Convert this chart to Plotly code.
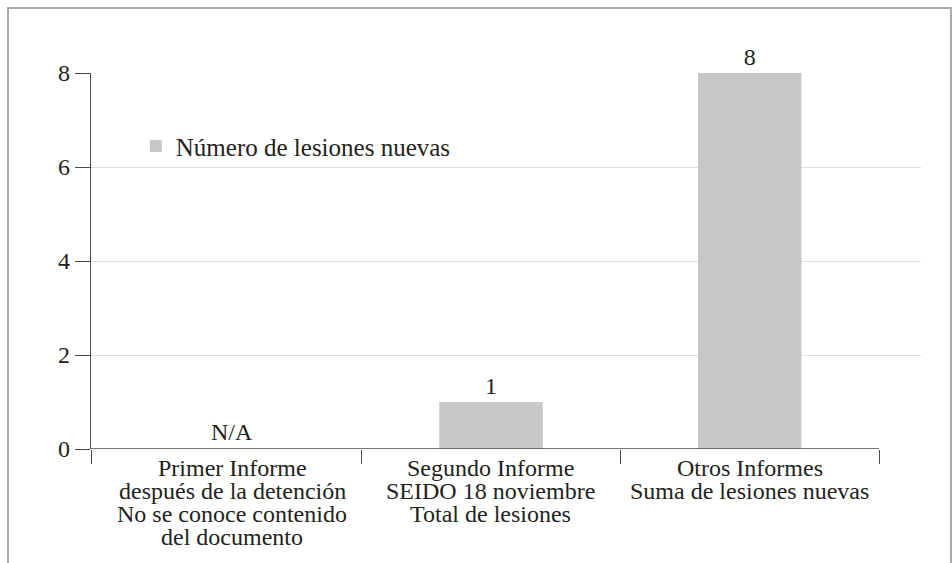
import plotly.graph_objects as go

# Data
categories = [
    "Primer Informe<br>después de la detención<br>No se conoce contenido<br>del documento",
    "Segundo Informe<br>SEIDO 18 noviembre<br>Total de lesiones",
    "Otros Informes<br>Suma de lesiones nuevas",
]
values = [None, 1, 8]
value_labels = ["N/A", "1", "8"]
series_name = "Número de lesiones nuevas"
y_ticks = [0, 2, 4, 6, 8]

FONT = "Liberation Serif, Times New Roman, serif"
TEXT = "#231f20"
BAR = "#c6c7c9"
GRID = "#dcdcdc"
AXIS = "#4a4a4a"
FS = 24

x_keys = list(range(len(categories)))
x_range = [-0.546, 2.662]

fig = go.Figure()
fig.add_trace(go.Bar(
    x=x_keys,
    y=values,
    name=series_name,
    marker=dict(color=BAR, line=dict(width=0)),
    width=0.4,
    text=[lbl if v is not None else "" for v, lbl in zip(values, value_labels)],
    textposition="outside",
    textfont=dict(family=FONT, size=FS, color=TEXT),
    cliponaxis=False,
    showlegend=True,
))

annotations = []
# "N/A" for categories without a value
for xi, (v, lbl) in enumerate(zip(values, value_labels)):
    if v is None:
        annotations.append(dict(
            x=xi, y=0, xref="x", yref="y", text=lbl, showarrow=False,
            yanchor="bottom", yshift=2,
            font=dict(family=FONT, size=FS, color=TEXT),
        ))

# Category labels, one annotation per line for tight line spacing
LINE_H = 23
for xi, cat in enumerate(categories):
    for li, line in enumerate(cat.split("<br>")):
        annotations.append(dict(
            x=xi, y=0, xref="x", yref="y", text=line, showarrow=False,
            yanchor="top", yshift=-(4 + li * LINE_H),
            font=dict(family=FONT, size=FS, color=TEXT),
        ))

shapes = [
    # category axis line
    dict(type="line", xref="x", yref="y", x0=x_range[0], x1=2.5, y0=0, y1=0,
         line=dict(color=AXIS, width=1.3), layer="above"),
    # outer frame
    dict(type="rect", xref="paper", yref="paper", x0=-0.1, x1=1.0361,
         y0=-0.4, y1=1.1729, line=dict(color="#ababab", width=2),
         fillcolor="rgba(0,0,0,0)", layer="below"),
]

fig.update_layout(
    width=952, height=563,
    margin=dict(l=91, r=31, t=73, b=114),
    paper_bgcolor="white", plot_bgcolor="white",
    font=dict(family=FONT, size=FS, color=TEXT),
    bargap=0.6,
    showlegend=True,
    legend=dict(
        x=0.054, y=0.805, xanchor="left", yanchor="middle",
        bgcolor="rgba(0,0,0,0)", borderwidth=0,
        font=dict(family=FONT, size=25, color=TEXT),
        itemwidth=30,
    ),
    xaxis=dict(
        type="linear", range=x_range,
        showticklabels=False, showgrid=False, zeroline=False,
        showline=False,
        tickmode="array", tickvals=[x_range[0], 0.5, 1.5, 2.5],
        ticks="outside", ticklen=14, tickwidth=1.3, tickcolor=AXIS,
    ),
    yaxis=dict(
        range=[0, 8], tickmode="array", tickvals=y_ticks,
        ticks="outside", ticklen=15, tickwidth=1.3, tickcolor=AXIS,
        showline=True, linecolor=AXIS, linewidth=1.3,
        showgrid=True, gridcolor=GRID, gridwidth=1.3,
        zeroline=False,
        tickfont=dict(family=FONT, size=FS, color=TEXT),
    ),
    annotations=annotations,
    shapes=shapes,
)

fig.write_html("out.html")
